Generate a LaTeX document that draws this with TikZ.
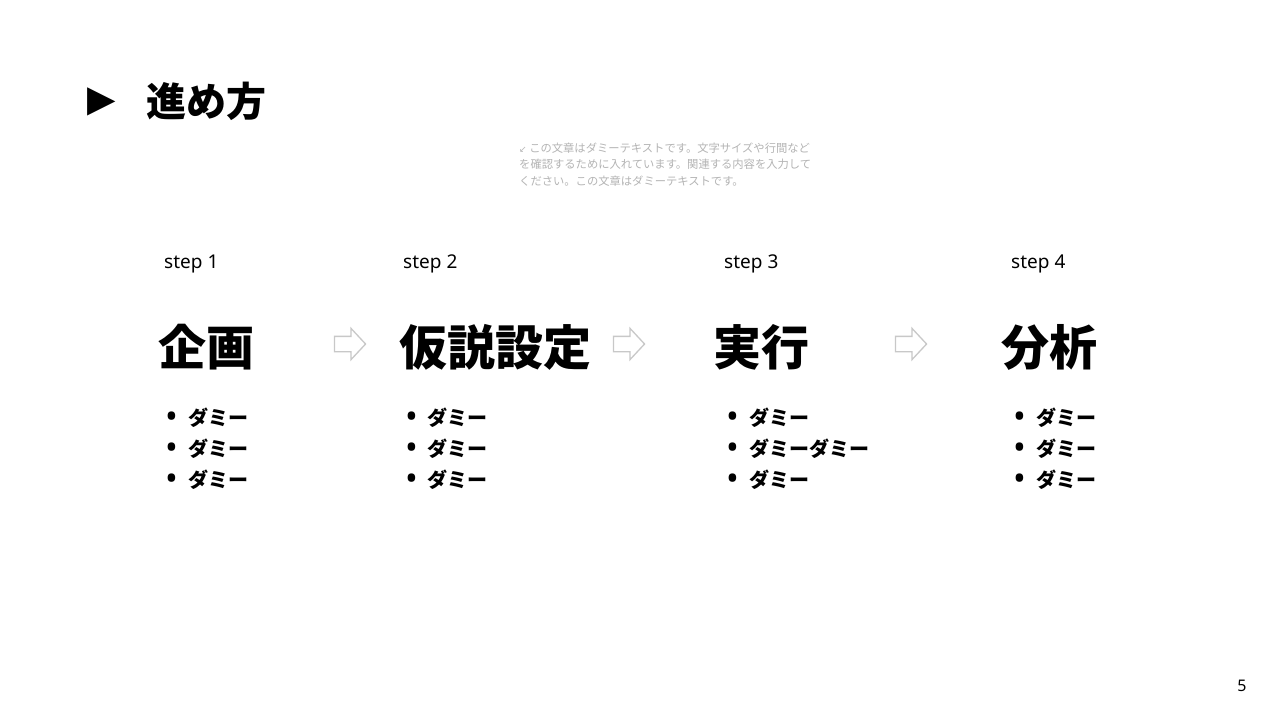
\documentclass[tikz,border=0pt]{standalone}
\usepackage{fontspec}
\setmainfont{Noto Sans}
\newfontfamily\jpfont{Noto Sans CJK JP}
\newfontfamily\djvfont{DejaVu Sans}
\usetikzlibrary{shapes.arrows}

\definecolor{notegray}{RGB}{180,180,180}
\definecolor{arrowgray}{RGB}{200,200,200}

\tikzset{
  titlemark/.style={inner sep=0pt, font=\fontsize{37}{39}\selectfont\djvfont},
  titletext/.style={anchor=base west, inner sep=0pt, font=\fontsize{40}{44}\selectfont\jpfont\bfseries},
  note/.style={anchor=north west, inner sep=0pt, align=left, text=notegray, font=\fontsize{11.3}{16.5}\selectfont\jpfont},
  steplabel/.style={anchor=base west, inner sep=0pt, font=\fontsize{19}{21}\selectfont},
  phase/.style={anchor=base west, inner sep=0pt, font=\fontsize{48}{52}\selectfont\jpfont\bfseries},
  bul/.style={anchor=base, inner sep=0pt, yshift=-3pt, font=\fontsize{34}{36}\selectfont},
  item/.style={anchor=base west, inner sep=0pt, font=\fontsize{20}{22}\selectfont\jpfont\bfseries},
  flowarrow/.style={single arrow, draw=arrowgray, line width=1.3pt, fill=white,
    minimum height=31pt, minimum width=30pt, inner sep=7pt,
    single arrow head extend=8pt, single arrow tip angle=94},
  pagenum/.style={anchor=base, inner sep=0pt, font=\fontsize{16}{18}\selectfont}
}

\begin{document}
\begin{tikzpicture}[x=1pt,y=-1pt]
    \newcommand{\steprow}{268}
    \newcommand{\phaserow}{365}
    \newcommand{\itemrow}{425}
    \newcommand{\itemspac}{31}

    \useasboundingbox (0,0) rectangle (1280,720);
    \fill[white] (0,0) rectangle (1280,720);

    % title
    \node[titlemark] (mark) at (101.5,102) {▶};
    \node[titletext] (title) at (146,116) {進め方};

    % note
    \node[note] (note) at (519,142.5) {{\djvfont\fontsize{9}{16.5}\selectfont ↙}\ この文章はダミーテキストです。文字サイズや行間など\\を確認するために入れています。関連する内容を入力して\\ください。この文章はダミーテキストです。};

    % step labels
    \node[steplabel] (s1) at (164,\steprow) {step 1};
    \node[steplabel] (s2) at (403,\steprow) {step 2};
    \node[steplabel] (s3) at (724,\steprow) {step 3};
    \node[steplabel] (s4) at (1011,\steprow) {step 4};

    % phases
    \node[phase] (p1) at (158,\phaserow) {企画};
    \node[phase] (p2) at (399,\phaserow) {仮説設定};
    \node[phase] (p3) at (713,\phaserow) {実行};
    \node[phase] (p4) at (1001,\phaserow) {分析};

    % arrows
    \node[flowarrow] (a12) at (346.5,344) {};
    \node[flowarrow] (a23) at (625.5,344) {};
    \node[flowarrow] (a34) at (907.5,344) {};

    % items
    \node[bul] (b11) at (172,\itemrow) {•};
    \node[item] (i11) at (188,\itemrow) {ダミー};
    \node[bul] (b12) at (172,\itemrow+\itemspac) {•};
    \node[item] (i12) at (188,\itemrow+\itemspac) {ダミー};
    \node[bul] (b13) at (172,\itemrow+2*\itemspac) {•};
    \node[item] (i13) at (188,\itemrow+2*\itemspac) {ダミー};

    \node[bul] (b21) at (412,\itemrow) {•};
    \node[item] (i21) at (427,\itemrow) {ダミー};
    \node[bul] (b22) at (412,\itemrow+\itemspac) {•};
    \node[item] (i22) at (427,\itemrow+\itemspac) {ダミー};
    \node[bul] (b23) at (412,\itemrow+2*\itemspac) {•};
    \node[item] (i23) at (427,\itemrow+2*\itemspac) {ダミー};

    \node[bul] (b31) at (733,\itemrow) {•};
    \node[item] (i31) at (749,\itemrow) {ダミー};
    \node[bul] (b32) at (733,\itemrow+\itemspac) {•};
    \node[item] (i32) at (749,\itemrow+\itemspac) {ダミーダミー};
    \node[bul] (b33) at (733,\itemrow+2*\itemspac) {•};
    \node[item] (i33) at (749,\itemrow+2*\itemspac) {ダミー};

    \node[bul] (b41) at (1020,\itemrow) {•};
    \node[item] (i41) at (1036,\itemrow) {ダミー};
    \node[bul] (b42) at (1020,\itemrow+\itemspac) {•};
    \node[item] (i42) at (1036,\itemrow+\itemspac) {ダミー};
    \node[bul] (b43) at (1020,\itemrow+2*\itemspac) {•};
    \node[item] (i43) at (1036,\itemrow+2*\itemspac) {ダミー};

    % page number
    \node[pagenum] (page) at (1242,691) {5};
\end{tikzpicture}
\end{document}
